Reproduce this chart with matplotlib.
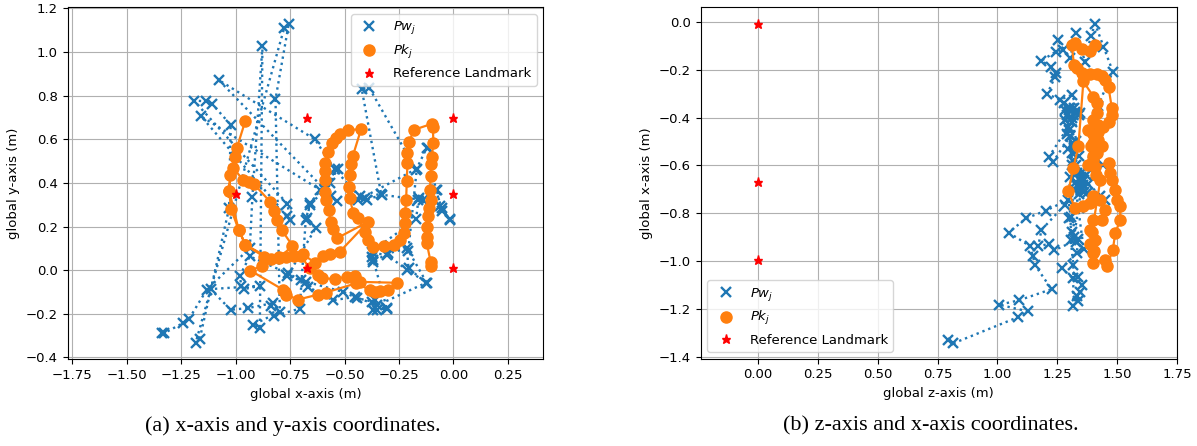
import matplotlib
matplotlib.use("Agg")
import matplotlib.pyplot as plt
from matplotlib.lines import Line2D

# ---------------- data: panel (a) x-y ----------------
pw_a_x = [-1.339, -1.330, -1.242, -1.215, -1.132, -0.935, -0.923, -0.877, -0.889, -0.920,
          -0.797, -0.817, -0.756, -0.777, -1.184, -1.165, -1.030, -1.023, -1.107, -1.135,
          -1.192, -0.762, -0.751, -0.762, -1.158, -0.613, -0.534, -0.560, -1.078, -0.636,
          -0.545, -0.431, -0.405, -0.332, -0.421, -0.386, -0.171, -0.122, -0.115, -0.080,
          -0.054, -0.015, -0.061, -0.141, -0.160, -0.171, -0.375, -0.375, -0.370, -0.298,
          -0.214, -0.206, -0.125, -0.352, -0.359, -0.367, -0.306, -0.451, -0.553, -0.667,
          -0.678, -0.702, -0.759, -0.935, -0.981, -0.974, -0.961, -0.889, -1.115, -1.023,
          -0.943, -0.828, -0.836, -0.823, -0.706, -0.678, -0.660, -0.589, -0.567, -0.532,
          -0.657, -0.673, -0.633, -0.763, -0.506, -0.444, -0.375, -0.352, -0.306, -0.368,
          -0.370, -0.306, -0.214, -0.123, -0.207, -0.168, -0.436, -0.398, -0.329, -0.161,
          -0.077, -0.054, -0.015]
pw_a_y = [-0.289, -0.290, -0.243, -0.225, -0.089, 0.101, 0.335, 1.029, -0.266, -0.251,
          -0.190, 0.784, 1.130, 1.110, -0.335, -0.316, 0.284, 0.667, 0.761, 0.774,
          0.778, 0.304, 0.231, 0.246, 0.705, 0.369, 0.315, 0.338, 0.872, 0.600,
          0.462, 0.338, 0.331, 0.351, 0.830, 0.835, 0.460, 0.562, 0.560, 0.366,
          0.284, 0.231, 0.292, 0.323, 0.331, 0.234, 0.085, 0.062, 0.038, 0.077,
          0.100, 0.008, -0.058, -0.162, -0.138, -0.182, -0.177, -0.123, -0.138, -0.077,
          -0.054, -0.046, -0.015, 0.063, -0.026, -0.072, -0.087, -0.072, -0.087, -0.182,
          -0.174, -0.151, -0.164, -0.210, -0.177, 0.231, 0.300, 0.369, 0.400, 0.465,
          0.308, 0.238, 0.192, -0.029, -0.100, -0.128, -0.144, -0.182, -0.174, 0.047,
          0.078, 0.070, 0.002, -0.057, 0.090, 0.465, 0.323, 0.323, 0.346, 0.323,
          0.369, 0.269, 0.235]

pk_a_x = [-0.956, -0.994, -1.005, -1.012, -0.966, -0.940, -0.917, -0.840, -0.825, -0.809,
          -0.789, -0.739, -0.800, -0.877, -0.932, -0.782, -0.775, -0.767, -0.713, -0.621,
          -0.586, -0.445, -0.382, -0.360, -0.336, -0.298, -0.260, -0.428, -0.451, -0.490,
          -0.545, -0.604, -0.621, -0.660, -0.700, -0.770, -0.836, -0.955, -0.986, -1.021,
          -1.030, -1.024, -1.030, -0.986, -0.955, -0.870, -0.800, -0.730, -0.690, -0.636,
          -0.600, -0.567, -0.521, -0.390, -0.535, -0.554, -0.563, -0.573, -0.584, -0.590,
          -0.590, -0.589, -0.589, -0.575, -0.558, -0.540, -0.523, -0.486, -0.424, -0.462,
          -0.471, -0.477, -0.480, -0.477, -0.459, -0.436, -0.408, -0.390, -0.367, -0.320,
          -0.275, -0.245, -0.229, -0.222, -0.222, -0.217, -0.214, -0.211, -0.211, -0.202,
          -0.183, -0.096, -0.094, -0.092, -0.099, -0.102, -0.105, -0.107, -0.104, -0.110,
          -0.118, -0.120, -0.122, -0.122, -0.104, -0.104]
pk_a_y = [0.683, 0.562, 0.520, 0.470, 0.414, 0.405, 0.396, 0.312, 0.269, 0.231,
          0.185, 0.112, 0.055, 0.021, -0.002, -0.090, -0.100, -0.113, -0.135, -0.112,
          -0.103, -0.060, -0.092, -0.100, -0.095, -0.092, -0.058, -0.054, -0.028, -0.031,
          -0.040, -0.038, -0.023, 0.008, 0.065, 0.060, 0.050, 0.116, 0.185, 0.280,
          0.365, 0.435, 0.365, 0.185, 0.116, 0.062, 0.058, 0.066, 0.072, 0.034,
          0.065, 0.074, 0.085, 0.223, 0.146, 0.190, 0.223, 0.277, 0.320, 0.360,
          0.415, 0.455, 0.490, 0.540, 0.585, 0.605, 0.623, 0.643, 0.646, 0.523,
          0.485, 0.438, 0.380, 0.330, 0.262, 0.238, 0.177, 0.138, 0.108, 0.110,
          0.115, 0.138, 0.169, 0.215, 0.262, 0.323, 0.408, 0.492, 0.538, 0.588,
          0.643, 0.672, 0.655, 0.585, 0.520, 0.485, 0.430, 0.369, 0.323, 0.285,
          0.246, 0.200, 0.154, 0.123, 0.035, 0.020]

lm_a_x = [-0.67, 0.0, -1.0, 0.0, -0.67, 0.0]
lm_a_y = [0.70, 0.70, 0.35, 0.35, 0.01, 0.01]

# ---------------- data: panel (b) z-x ----------------
pw_b_z = [0.795, 0.815, 1.084, 1.128, 1.007, 1.089, 1.226, 1.156, 1.149, 1.135,
          1.047, 1.119, 1.203, 1.296, 1.306, 1.306, 1.317, 1.317, 1.331, 1.338,
          1.345, 1.352, 1.338, 1.314, 1.268, 1.331, 1.338, 1.236, 1.216, 1.170,
          1.184, 1.282, 1.338, 1.359, 1.345, 1.331, 1.373, 1.429, 1.450, 1.360,
          1.380, 1.340, 1.320, 1.350, 1.330, 1.310, 1.324, 1.317, 1.303, 1.233,
          1.216, 1.296, 1.282, 1.289, 1.300, 1.330, 1.310, 1.282, 1.303, 1.324,
          1.345, 1.310, 1.261, 1.208, 1.240, 1.244, 1.222, 1.184, 1.244, 1.275,
          1.254, 1.303, 1.328, 1.366, 1.390, 1.408, 1.443, 1.482, 1.420, 1.400,
          1.440, 1.350, 1.320, 1.300, 1.330, 1.310, 1.290, 1.320, 1.340, 1.310,
          1.350, 1.370, 1.330, 1.360, 1.390, 1.340, 1.300, 1.310, 1.330, 1.360,
          1.280, 1.300, 1.320, 1.340, 1.295, 1.315, 1.345, 1.305]
pw_b_x = [-1.330, -1.345, -1.236, -1.211, -1.183, -1.165, -1.118, -1.016, -0.981, -0.937,
          -0.881, -0.822, -0.789, -0.744, -0.814, -0.911, -1.016, -1.187, -1.148, -1.169,
          -1.128, -1.100, -1.065, -1.072, -1.030, -0.967, -0.909, -0.956, -0.928, -0.939,
          -0.870, -0.765, -0.689, -0.682, -0.661, -0.633, -0.716, -0.730, -0.744, -0.660,
          -0.680, -0.720, -0.700, -0.650, -0.600, -0.550, -0.542, -0.507, -0.479, -0.584,
          -0.563, -0.438, -0.410, -0.389, -0.450, -0.500, -0.400, -0.368, -0.361, -0.375,
          -0.382, -0.305, -0.326, -0.301, -0.231, -0.215, -0.187, -0.162, -0.124, -0.117,
          -0.075, -0.152, -0.047, -0.166, -0.059, -0.008, -0.103, -0.208, -0.350, -0.550,
          -0.600, -0.700, -0.900, -0.360, -0.380, -0.420, -0.470, -0.520, -0.560, -0.600,
          -0.630, -0.640, -0.670, -0.710, -0.740, -0.780, -0.820, -0.880, -0.920, -0.950,
          -0.340, -0.370, -0.360, -0.390, -0.530, -0.580, -0.690, -0.650]

pk_b_z = [1.408, 1.387, 1.352, 1.324, 1.310, 1.320, 1.331, 1.352, 1.387, 1.415,
          1.436, 1.450, 1.464, 1.478, 1.478, 1.464, 1.443, 1.422, 1.408, 1.401,
          1.422, 1.436, 1.415, 1.401, 1.408, 1.464, 1.471, 1.478, 1.492, 1.499,
          1.513, 1.513, 1.492, 1.482, 1.457, 1.450, 1.401, 1.398, 1.408, 1.387,
          1.401, 1.436, 1.450, 1.429, 1.401, 1.387, 1.359, 1.324, 1.296, 1.317,
          1.338, 1.359, 1.401, 1.415, 1.415, 1.401, 1.380, 1.400, 1.420, 1.390,
          1.400, 1.380, 1.410, 1.430, 1.395, 1.385, 1.405]
pk_b_x = [-0.096, -0.120, -0.114, -0.089, -0.096, -0.180, -0.194, -0.212, -0.217, -0.217,
          -0.226, -0.243, -0.273, -0.361, -0.389, -0.417, -0.438, -0.459, -0.479, -0.507,
          -0.493, -0.521, -0.549, -0.577, -0.605, -0.591, -0.633, -0.661, -0.702, -0.744,
          -0.772, -0.828, -0.884, -0.953, -1.023, -0.995, -1.009, -0.967, -0.911, -0.870,
          -0.828, -0.828, -0.786, -0.744, -0.730, -0.758, -0.772, -0.779, -0.709, -0.612,
          -0.521, -0.249, -0.312, -0.340, -0.382, -0.410, -0.450, -0.470, -0.430, -0.520,
          -0.560, -0.600, -0.640, -0.660, -0.880, -0.930, -0.960]

lm_b_z = [0.0, 0.0, 0.0]
lm_b_x = [-0.01, -0.67, -0.995]

# ---------------- drawing ----------------
FS = 9.5
plt.rcParams['font.family'] = ['DejaVu Sans']
plt.rcParams['font.size'] = FS

BLUE = '#1f77b4'
ORANGE = '#ff7f0e'

fig = plt.figure(figsize=(11.97, 4.46), dpi=100)
axA = fig.add_axes([0.0566, 0.1944, 0.3973, 0.789])
axB = fig.add_axes([0.5854, 0.1957, 0.3979, 0.788])


def draw(ax, wx, wy, kx, ky, lx, ly):
    ax.grid(True, color='#b0b0b0', lw=0.8, zorder=0)
    ax.set_axisbelow(True)
    ax.plot(wx, wy, linestyle=':', color=BLUE, marker='x', ms=7, mew=1.7,
            lw=1.7, zorder=2)
    ax.plot(kx, ky, linestyle='-', color=ORANGE, marker='o', ms=8,
            lw=1.6, zorder=3)
    ax.plot(lx, ly, linestyle='none', color='red', marker='*', ms=6.5, zorder=4)
    ax.tick_params(labelsize=FS)


def handles():
    return [
        Line2D([], [], linestyle='none', color=BLUE, marker='x', ms=7, mew=1.7, label=r'$Pw_j$'),
        Line2D([], [], linestyle='none', color=ORANGE, marker='o', ms=8, label=r'$Pk_j$'),
        Line2D([], [], linestyle='none', color='red', marker='*', ms=6.5, label='Reference Landmark'),
    ]


draw(axA, pw_a_x, pw_a_y, pk_a_x, pk_a_y, lm_a_x, lm_a_y)
axA.set_xlim(-1.771, 0.413)
axA.set_ylim(-0.409, 1.205)
axA.set_xticks([-1.75, -1.5, -1.25, -1.0, -0.75, -0.5, -0.25, 0.0, 0.25])
axA.set_xticklabels(['\u22121.75', '\u22121.50', '\u22121.25', '\u22121.00', '\u22120.75',
                     '\u22120.50', '\u22120.25', '0.00', '0.25'])
axA.set_yticks([-0.4, -0.2, 0.0, 0.2, 0.4, 0.6, 0.8, 1.0, 1.2])
axA.set_xlabel('global x-axis (m)', fontsize=FS)
axA.set_ylabel('global y-axis (m)', fontsize=FS)
axA.legend(handles=handles(), loc='upper right', fontsize=FS)

draw(axB, pw_b_z, pw_b_x, pk_b_z, pk_b_x, lm_b_z, lm_b_x)
axB.set_xlim(-0.239, 1.75)
axB.set_ylim(-1.409, 0.0615)
axB.set_xticks([0.0, 0.25, 0.5, 0.75, 1.0, 1.25, 1.5, 1.75])
axB.set_yticks([-1.4, -1.2, -1.0, -0.8, -0.6, -0.4, -0.2, 0.0])
axB.set_xlabel('global z-axis (m)', fontsize=FS)
axB.set_ylabel('global x-axis (m)', fontsize=FS)
axB.legend(handles=handles(), loc='lower left', fontsize=FS)

fig.text(293 / 1197, 1 - 426 / 446, '(a) x-axis and y-axis coordinates.',
         ha='center', va='center', fontsize=16, family='Liberation Serif')
fig.text(931 / 1197, 1 - 426 / 446, '(b) z-axis and x-axis coordinates.',
         ha='center', va='center', fontsize=16, family='Liberation Serif')

fig.savefig('out.png', dpi=100)
